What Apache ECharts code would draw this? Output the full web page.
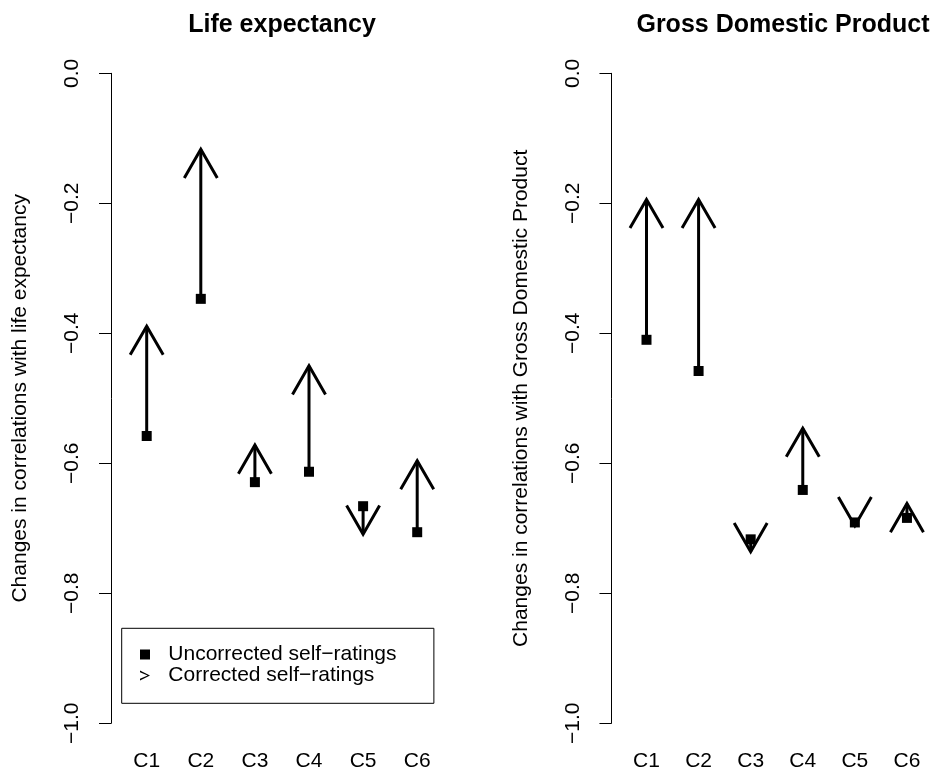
<!DOCTYPE html>
<html>
<head>
<meta charset="utf-8">
<script src="https://cdn.jsdelivr.net/npm/echarts@6/dist/echarts.min.js"></script>
<style>
html,body{margin:0;padding:0;background:#fff;}
#chart{width:933px;height:777px;}
</style>
</head>
<body>
<div id="chart"></div>
<script>
const categories = ['C1', 'C2', 'C3', 'C4', 'C5', 'C6'];
const yTicks = [0, -0.2, -0.4, -0.6, -0.8, -1.0];
const leftUncorrected = [-0.558, -0.347, -0.629, -0.613, -0.666, -0.706];
const leftCorrected = [-0.389, -0.117, -0.572, -0.450, -0.709, -0.596];
const rightUncorrected = [-0.410, -0.458, -0.717, -0.641, -0.691, -0.684];
const rightCorrected = [-0.194, -0.194, -0.736, -0.546, -0.696, -0.662];
const titles = ['Life expectancy', 'Gross Domestic Product'];
const yNames = ['Changes in correlations with life expectancy', 'Changes in correlations with Gross Domestic Product'];
const legendNames = ['Uncorrected self\u2212ratings', 'Corrected self\u2212ratings'];

const FONT = 'Liberation Sans';
const chart = echarts.init(document.getElementById('chart'), null, {renderer: 'canvas'});

function fmt(v) {
  return v.toFixed(1).replace('-', '\u2212');
}

function renderArrow(params, api) {
  const p0 = api.coord([api.value(0), api.value(1)]);
  const p1 = api.coord([api.value(0), api.value(2)]);
  const dx = p1[0] - p0[0], dy = p1[1] - p0[1];
  const len = Math.hypot(dx, dy) || 1;
  const bx = -dx / len, by = -dy / len;
  const L = 33, a = Math.PI / 6;
  const arm = s => [
    p1[0] + L * (bx * Math.cos(s * a) - by * Math.sin(s * a)),
    p1[1] + L * (bx * Math.sin(s * a) + by * Math.cos(s * a))
  ];
  return {
    type: 'group',
    children: [
      {type: 'line', shape: {x1: p0[0], y1: p0[1], x2: p1[0], y2: p1[1]},
       style: {stroke: '#000', lineWidth: 3}},
      {type: 'polyline', shape: {points: [arm(1), p1, arm(-1)]},
       style: {stroke: '#000', lineWidth: 3, fill: null, lineJoin: 'miter'}}
    ]
  };
}

const gridLefts = [119.65, 620.45];
const axisOffsets = [8.65, 9];
const titleCenters = [282, 783];

const grids = gridLefts.map(l => ({left: l, top: 73.3, width: 324.6, height: 650}));
const xAxes = [0, 1].map(i => ({
  type: 'category', gridIndex: i, data: categories,
  axisLine: {show: false}, axisTick: {show: false}, splitLine: {show: false},
  axisLabel: {fontSize: 21, color: '#000', fontFamily: FONT, margin: 27}
}));
const yAxes = [0, 1].map(i => ({
  type: 'value', gridIndex: i, min: -1, max: 0, interval: 0.2,
  offset: axisOffsets[i],
  axisLine: {show: true, lineStyle: {color: '#000', width: 1}},
  axisTick: {show: true, length: 12, lineStyle: {color: '#000', width: 1}},
  splitLine: {show: false},
  axisLabel: {rotate: 90, fontSize: 21, color: '#000', fontFamily: FONT, margin: 28,
    formatter: v => fmt(v)},
  name: yNames[i], nameLocation: 'middle', nameRotate: 90, nameGap: 80,
  nameTextStyle: {fontSize: 21, color: '#000', fontFamily: FONT}
}));

const sets = [[leftUncorrected, leftCorrected], [rightUncorrected, rightCorrected]];
const series = [];
sets.forEach((s, i) => {
  series.push({
    type: 'scatter', name: legendNames[0], xAxisIndex: i, yAxisIndex: i,
    symbol: 'rect', symbolSize: 10, itemStyle: {color: '#000', opacity: 1},
    data: s[0].map((v, k) => [k, v]), z: 2, silent: true
  });
  series.push({
    type: 'custom', name: legendNames[1], xAxisIndex: i, yAxisIndex: i,
    renderItem: renderArrow, itemStyle: {color: '#000'},
    encode: {x: 0, y: [1, 2]},
    data: s[1].map((v, k) => [k, s[0][k], v]), z: 3, silent: true
  });
});

chart.setOption({
  backgroundColor: '#fff',
  animation: false,
  title: titles.map((t, i) => ({
    text: t, left: titleCenters[i], top: 13, textAlign: 'center', padding: 0,
    textStyle: {fontSize: 25, fontWeight: 'bold', color: '#000', fontFamily: FONT}
  })),
  legend: {
    orient: 'vertical', left: 121.7, top: 628.3,
    padding: [15.7, 37.4, 17.3, 18.3],
    borderColor: '#000', borderWidth: 1, backgroundColor: '#fff',
    itemWidth: 10, itemHeight: 10, itemGap: 0, selectedMode: false,
    textStyle: {fontSize: 21, lineHeight: 21, color: '#000', fontFamily: FONT, padding: [0, 0, 0, 13.3]},
    data: [
      {name: legendNames[0], icon: 'rect', itemStyle: {color: '#000', opacity: 1}},
      {name: legendNames[1], icon: 'path://M0,0L10,5L0,10L0,8.2L7.6,5L0,1.8Z', itemStyle: {color: '#000'}}
    ]
  },
  grid: grids,
  xAxis: xAxes,
  yAxis: yAxes,
  series: series
});
</script>
</body>
</html>
